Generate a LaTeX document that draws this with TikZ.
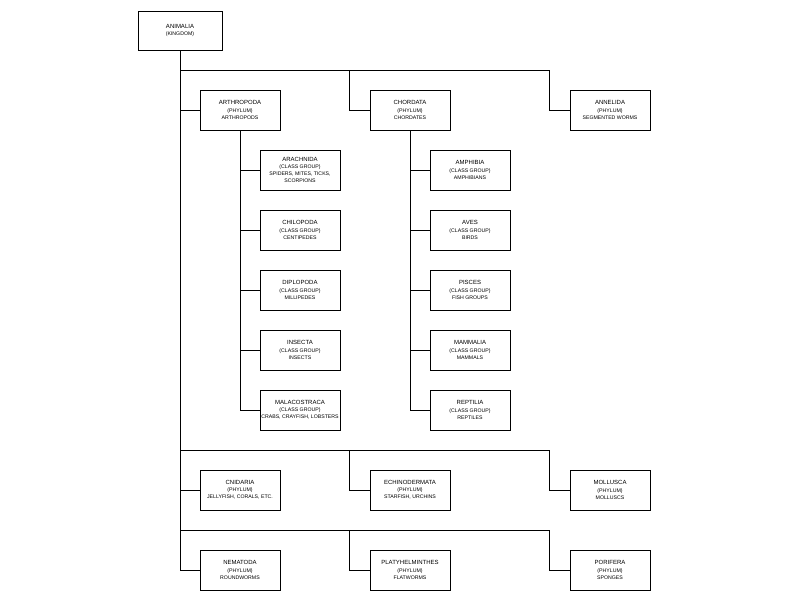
\documentclass[tikz,border=0pt]{standalone}
\usepackage{fontspec}
\setmainfont{Liberation Sans}
\newcommand{\taxon}[3]{{\fontsize{6}{7.5}\selectfont #1}\\#2\\#3}
\begin{document}
\begin{tikzpicture}[x=1pt,y=-1pt,
  box/.style={draw, line width=0.7pt, minimum width=80pt, minimum height=40pt,
    align=center, inner sep=1pt, font=\fontsize{5.2}{7.2}\selectfont},
  link/.style={line width=0.7pt}]
  \useasboundingbox (0,0) rectangle (800,600);
  % kingdom
  \node[box, minimum width=84pt, minimum height=39pt] (animalia) at (180,30.5)
    {{\fontsize{6}{7.5}\selectfont ANIMALIA}\\(KINGDOM)};
  % bus lines
  \coordinate (bus1) at (180,70);
  \coordinate (bus2) at (180,450);
  \coordinate (bus3) at (180,530);
  \coordinate (trunk) at (180,570);
  \draw[link] (animalia.south) -- (trunk);
  % phylum row 1
  \node[box] (arthropoda) at (240,110) {\taxon{ARTHROPODA}{(PHYLUM)}{ARTHROPODS}};
  \node[box] (chordata) at (410,110) {\taxon{CHORDATA}{(PHYLUM)}{CHORDATES}};
  \node[box] (annelida) at (610,110) {\taxon{ANNELIDA}{(PHYLUM)}{SEGMENTED WORMS}};
  % phylum row 2
  \node[box] (cnidaria) at (240,490) {\taxon{CNIDARIA}{(PHYLUM)}{JELLYFISH, CORALS, ETC.}};
  \node[box] (echinodermata) at (410,490) {\taxon{ECHINODERMATA}{(PHYLUM)}{STARFISH, URCHINS}};
  \node[box] (mollusca) at (610,490) {\taxon{MOLLUSCA}{(PHYLUM)}{MOLLUSCS}};
  % phylum row 3
  \node[box] (nematoda) at (240,570) {\taxon{NEMATODA}{(PHYLUM)}{ROUNDWORMS}};
  \node[box] (platyhelminthes) at (410,570) {\taxon{PLATYHELMINTHES}{(PHYLUM)}{FLATWORMS}};
  \node[box] (porifera) at (610,570) {\taxon{PORIFERA}{(PHYLUM)}{SPONGES}};
  % connectors to phyla
  \foreach \bus/\first/\mid/\last in {bus1/arthropoda/chordata/annelida,
      bus2/cnidaria/echinodermata/mollusca, bus3/nematoda/platyhelminthes/porifera} {
    \draw[link] (\bus) -| ([xshift=-20pt]\last.west) -- (\last.west);
    \draw[link] ([xshift=-20pt]\mid.west |- \bus) |- (\mid.west);
    \draw[link] (\bus |- \first.west) -- (\first.west);
  }
  % arthropod classes
  \foreach \name/\lbl/\common [count=\i] in {
      arachnida/ARACHNIDA/{SPIDERS, MITES, TICKS,\\SCORPIONS},
      chilopoda/CHILOPODA/CENTIPEDES,
      diplopoda/DIPLOPODA/MILLIPEDES,
      insecta/INSECTA/INSECTS,
      malacostraca/MALACOSTRACA/{CRABS, CRAYFISH, LOBSTERS}} {
    \node[box] (\name) at (300,110+60*\i) {\taxon{\lbl}{(CLASS GROUP)}{\common}};
    \draw[link] (arthropoda.south) |- (\name.west);
  }
  % chordate classes
  \foreach \name/\lbl/\common [count=\i] in {
      amphibia/AMPHIBIA/AMPHIBIANS,
      aves/AVES/BIRDS,
      pisces/PISCES/FISH GROUPS,
      mammalia/MAMMALIA/MAMMALS,
      reptilia/REPTILIA/REPTILES} {
    \node[box] (\name) at (470,110+60*\i) {\taxon{\lbl}{(CLASS GROUP)}{\common}};
    \draw[link] (chordata.south) |- (\name.west);
  }
\end{tikzpicture}
\end{document}
